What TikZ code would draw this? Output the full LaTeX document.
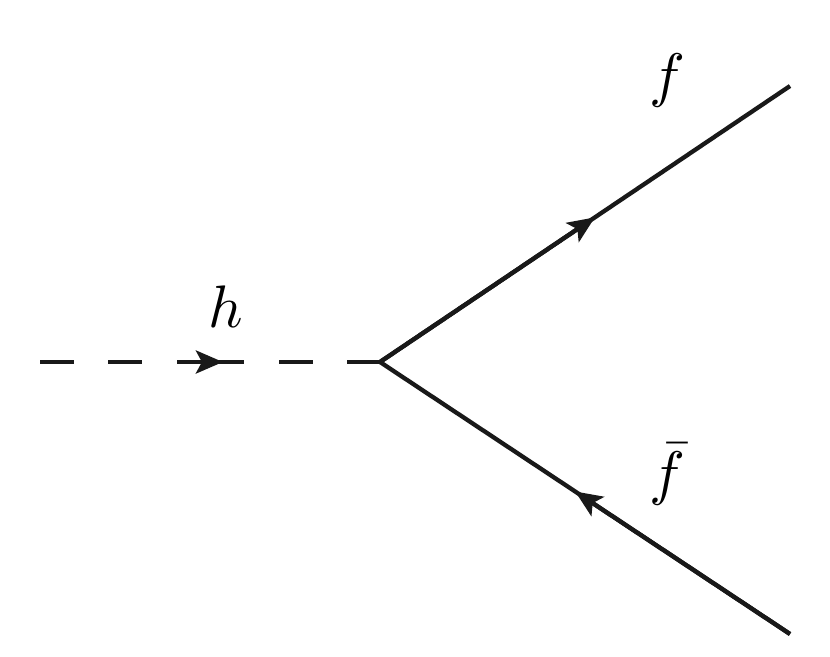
\documentclass[tikz,border=0pt]{standalone}
\usetikzlibrary{arrows.meta,calc}
\begin{document}
\begin{tikzpicture}[x=1pt,y=-1pt,
  prop/.style={line width=4.3pt,line cap=butt,black!90},
  tip/.style={-{Stealth[length=27pt,width=23pt,inset=6pt]}},
  lbl/.style={scale=6,inner sep=0pt,anchor=base}]
\useasboundingbox (0,0) rectangle (830,656);
\coordinate (h0) at (40,362);
\coordinate (ha) at (177,362);
\coordinate (v) at (380,362);
\coordinate (f1) at (790,86);
\coordinate (f2) at (790,634);
% scalar line
\draw[prop,dash pattern=on 34pt off 34pt on 34pt off 35pt on 67pt off 35pt on 34pt off 34pt on 40pt] (h0) -- (v);
\draw[prop,tip] (ha) -- ($(h0)!0.538!(v)$);
% fermion lines
\draw[prop] (v) -- (f1);
\draw[prop,tip] (v) -- ($(v)!0.524!(f1)$);
\draw[prop] (v) -- (f2);
\draw[prop,tip] (f2) -- ($(f2)!0.524!(v)$);
% labels
\node[lbl] (hl) at (226,327) {$h$};
\node[lbl] (fl) at (667,95) {$f$};
\node[lbl] (fbl) at (667,493) {$\bar f$};
\end{tikzpicture}
\end{document}
